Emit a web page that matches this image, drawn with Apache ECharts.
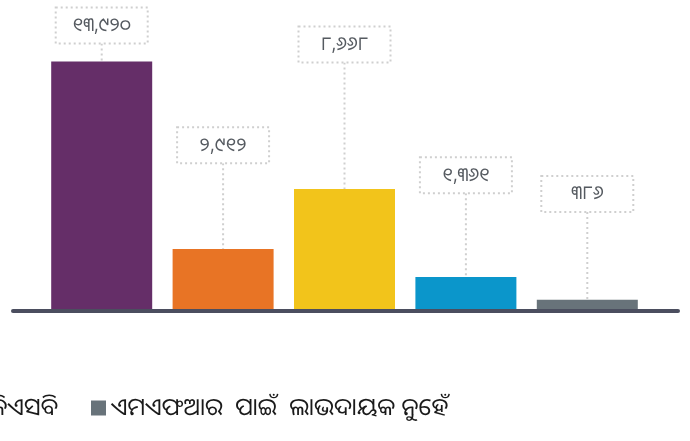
<!DOCTYPE html>
<html>
<head>
<meta charset="utf-8">
<script src="https://cdn.jsdelivr.net/npm/echarts@6/dist/echarts.min.js"></script>
<style>
  html, body { margin: 0; padding: 0; background: #fff; }
  #chart { width: 690px; height: 441px; }
</style>
</head>
<body>
<div id="chart"></div>
<script>
// names: only the last two can be read in the (cropped) legend
var names = ['', '', '', 'ଜିଏସବି', 'ଏମଏଫଆର  ପାଇଁ  ଲାଭଦାୟକ ନୁହେଁ']
var colors = ['#652e68', '#e87425', '#f2c41b', '#0b96cb', '#68737a']
// printed numbers in the boxes
var labelValues = [13920, 2912, 8668, 1361, 386]
// bar heights as drawn in the picture (the drawing is not to scale with the numbers)
var barValues = [13920, 3370, 6740, 1800, 520]
// height of the bottom edge of each number box, same units
var boxLevels = [14930, 8200, 13860, 6510, 5450]

var odiaDigits = function (v) {
  var s = String(v).replace(/\B(?=(\d{3})+(?!\d))/g, ',')
  return s.replace(/\d/g, function (d) {
    return String.fromCharCode(0x0B66 + Number(d))
  })
}

var chart = echarts.init(document.getElementById('chart'))

var series = names.map(function (name, i) {
  var data = barValues.map(function (v, j) { return j === i ? v : '-' })
  return {
    name: name,
    type: 'bar',
    stack: 'all',
    xAxisIndex: 1,
    yAxisIndex: 1,
    barWidth: 101,
    itemStyle: { color: colors[i] },
    data: data
  }
})

series.push({
  type: 'custom',
  xAxisIndex: 1,
  yAxisIndex: 1,
  clip: false,
  z: 5,
  data: barValues.map(function (v, i) {
    return [i, v, boxLevels[i], odiaDigits(labelValues[i])]
  }),
  renderItem: function (params, api) {
    var top = api.coord([api.value(0), api.value(1)])
    var box = api.coord([api.value(0), api.value(2)])
    var x = top[0]
    var w = 92
    var h = 36
    return {
      type: 'group',
      children: [
        {
          type: 'line',
          shape: { x1: x, y1: box[1], x2: x, y2: top[1] },
          style: { stroke: '#cfcfcf', lineWidth: 2, lineDash: [2, 3] }
        },
        {
          type: 'rect',
          shape: { x: x - w / 2, y: box[1] - h, width: w, height: h },
          style: { fill: '#fff', stroke: '#cfcfcf', lineWidth: 2, lineDash: [2, 3] }
        },
        {
          type: 'text',
          style: {
            x: x,
            y: box[1] - h / 2,
            text: api.value(3),
            align: 'center',
            verticalAlign: 'middle',
            fill: '#555a60',
            font: '19px "Noto Sans Oriya", "Noto Sans", sans-serif'
          }
        }
      ]
    }
  }
})

var legendText = {
  fontSize: 24,
  color: '#1a1a1a',
  fontFamily: '"Noto Sans Oriya", "Noto Sans", sans-serif'
}

chart.setOption({
  animation: false,
  legend: [
    {
      data: [names[3]],
      right: 627,
      bottom: 16,
      itemWidth: 15,
      itemHeight: 15,
      icon: 'rect',
      textStyle: legendText
    },
    {
      data: [names[4]],
      left: 86,
      bottom: 16,
      itemWidth: 15,
      itemHeight: 15,
      itemGap: 4,
      icon: 'rect',
      textStyle: legendText
    }
  ],
  grid: [
    { left: 13, right: 12, top: 60, bottom: 130 },
    { left: 41, right: 42, top: 60, bottom: 132 }
  ],
  xAxis: [
    {
      type: 'category',
      gridIndex: 0,
      data: [],
      axisLine: { lineStyle: { color: '#4b4e5f', width: 4 } },
      axisTick: { show: false },
      axisLabel: { show: false }
    },
    {
      type: 'category',
      gridIndex: 1,
      data: names,
      axisLine: { show: false },
      axisTick: { show: false },
      axisLabel: { show: false }
    }
  ],
  yAxis: [
    { type: 'value', gridIndex: 0, show: false },
    { type: 'value', gridIndex: 1, min: 0, max: 14000, show: false }
  ],
  series: series
})
</script>
</body>
</html>
